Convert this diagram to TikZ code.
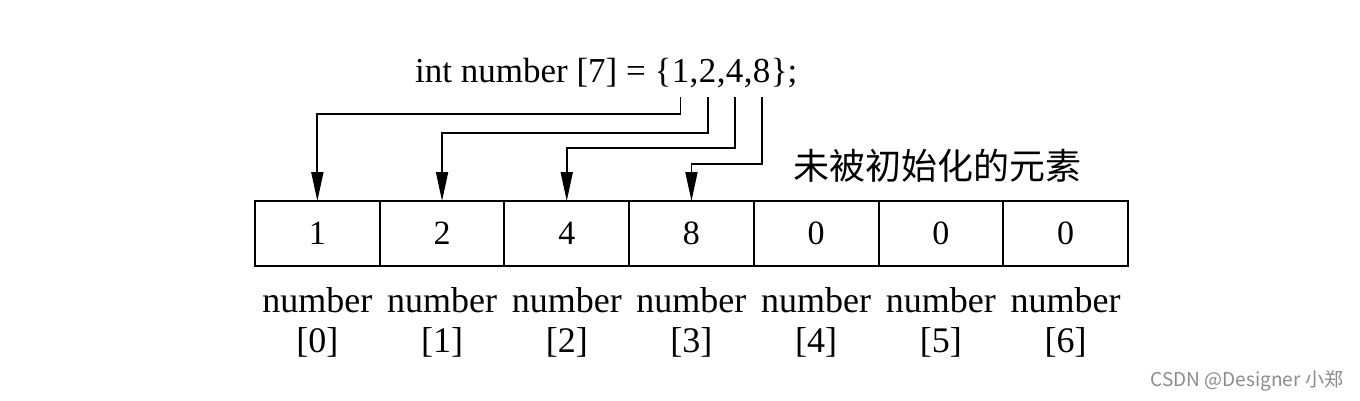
\documentclass[tikz,border=0pt]{standalone}
\usepackage{fontspec}
\setmainfont{Liberation Serif}
\newfontfamily\cjk{Noto Sans CJK SC}
\usetikzlibrary{arrows.meta}
\begin{document}
\begin{tikzpicture}[x=1pt,y=-1pt,
  cell/.style={draw, line width=2pt, minimum width=124.7pt, minimum height=65pt, inner sep=0pt, outer sep=0pt, font=\fontsize{34}{38}\selectfont},
  lab/.style={font=\fontsize{36}{40}\selectfont, inner sep=0pt, anchor=base},
  code/.style={font=\fontsize{35}{40}\selectfont, inner sep=0pt, anchor=base west},
  arr/.style={line width=1.8pt, -{Triangle[length=29pt,width=12pt]}},
]
\useasboundingbox (0,0) rectangle (1360,401);
\fill[white] (0,0) rectangle (1360,401);

\node[code] (pre) at (415,83) {int number [7] = \{};
\node[code] (d1) at (pre.base east) {1};
\node[code] (k1) at (d1.base east) {,};
\node[code] (d2) at (k1.base east) {2};
\node[code] (k2) at (d2.base east) {,};
\node[code] (d4) at (k2.base east) {4};
\node[code] (k3) at (d4.base east) {,};
\node[code] (d8) at (k3.base east) {8};
\node[code] (post) at (d8.base east) {\};};

\foreach \v [count=\i from 0] in {1,2,4,8,0,0,0} {
  \node[cell] (c\i) at ({255+124.7*(\i+0.5)},233.5) {\v};
  \node[lab] (n\i) at ({255+124.7*(\i+0.5)},312) {number};
  \node[lab] (b\i) at ({255+124.7*(\i+0.5)},352) {[\i]};
}

\draw[arr] ([yshift=-14pt]d1.base) -- ([yshift=-31pt]d1.base) -| (c0.north);
\draw[arr] ([yshift=-14pt]d2.base) -- ([yshift=-50pt]d2.base) -| (c1.north);
\draw[arr] ([yshift=-14pt]d4.base) -- ([yshift=-65pt]d4.base) -| (c2.north);
\draw[arr] ([yshift=-14pt]d8.base) -- ([yshift=-81pt]d8.base) -| (c3.north);

\node[font=\cjk\fontsize{36}{40}\selectfont, inner sep=0pt] (note) at (937,166) {未被初始化的元素};
\node[font=\cjk\fontsize{19}{22}\selectfont, text=black!45, inner sep=0pt] (wm) at (1247,381) {CSDN @Designer 小郑};
\end{tikzpicture}
\end{document}
